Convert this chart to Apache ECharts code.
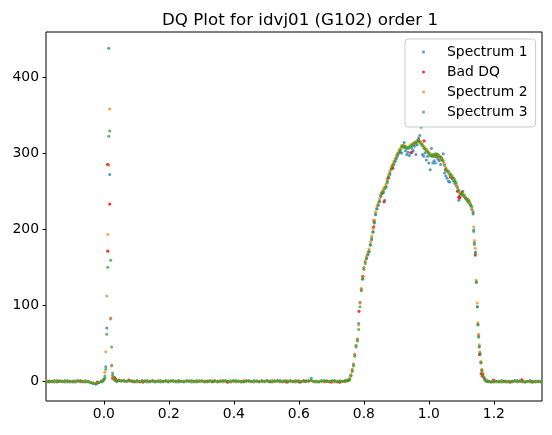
<!DOCTYPE html>
<html>
<head>
<meta charset="utf-8">
<script src="https://cdn.jsdelivr.net/npm/echarts@6/dist/echarts.min.js"></script>
<style>
  html, body { margin: 0; padding: 0; background: #fff; }
</style>
</head>
<body>
<div id="main" style="width:552px;height:435px"></div>
<script>
// wavelength grid shared by the three spectra
const wave = [
  // left flat
  -0.176, -0.168, -0.160, -0.152, -0.144, -0.136, -0.128, -0.120, -0.112, -0.104,
  -0.096, -0.088, -0.080, -0.072, -0.064, -0.056, -0.048, -0.040, -0.032, -0.024,
  -0.016, -0.008, -0.003,
  // spike
  0.000, 0.003, 0.006, 0.009, 0.012, 0.015, 0.018, 0.021, 0.024, 0.027, 0.030, 0.033, 0.036, 0.040,
  // middle flat
  0.046, 0.054, 0.062, 0.070, 0.078, 0.086, 0.094, 0.102, 0.110, 0.118,
  0.126, 0.134, 0.142, 0.150, 0.158, 0.166, 0.174, 0.182, 0.190, 0.198,
  0.206, 0.214, 0.222, 0.230, 0.238, 0.246, 0.254, 0.262, 0.270, 0.278,
  0.286, 0.294, 0.302, 0.310, 0.318, 0.326, 0.334, 0.342, 0.350, 0.358,
  0.366, 0.374, 0.382, 0.390, 0.398, 0.406, 0.414, 0.422, 0.430, 0.438,
  0.446, 0.454, 0.462, 0.470, 0.478, 0.486, 0.494, 0.502, 0.510, 0.518,
  0.526, 0.534, 0.542, 0.550, 0.558, 0.566, 0.574, 0.582, 0.590, 0.598,
  0.606, 0.614, 0.622, 0.630, 0.638, 0.646, 0.654, 0.662, 0.670, 0.678,
  0.686, 0.694, 0.702, 0.710, 0.718, 0.726, 0.734, 0.742, 0.748,
  // hump
  0.752, 0.756, 0.760, 0.764, 0.768, 0.772, 0.776, 0.780, 0.784, 0.788,
  0.792, 0.796, 0.800, 0.804, 0.808, 0.812, 0.816, 0.820, 0.824, 0.828,
  0.832, 0.836, 0.840, 0.844, 0.848, 0.852, 0.856, 0.860, 0.864, 0.868,
  0.872, 0.876, 0.880, 0.884, 0.888, 0.892, 0.896, 0.900, 0.904, 0.908,
  0.912, 0.916, 0.920, 0.924, 0.928, 0.932, 0.936, 0.940, 0.944, 0.948,
  0.952, 0.956, 0.960, 0.964, 0.968, 0.972, 0.976, 0.980, 0.984, 0.988,
  0.992, 0.996, 1.000, 1.004, 1.008, 1.012, 1.016, 1.020, 1.024, 1.028,
  1.032, 1.036, 1.040, 1.044, 1.048, 1.052, 1.056, 1.060, 1.064, 1.068,
  1.072, 1.076, 1.080, 1.084, 1.088, 1.092, 1.096, 1.100, 1.104, 1.108,
  1.112, 1.116, 1.120, 1.124, 1.128, 1.132, 1.136,
  // falling edge
  1.138, 1.140, 1.143, 1.146, 1.149, 1.151, 1.153, 1.155, 1.157, 1.160,
  1.163, 1.166, 1.169, 1.172, 1.176, 1.180,
  // right flat
  1.184, 1.192, 1.200, 1.208, 1.216, 1.224, 1.232, 1.240, 1.248, 1.256,
  1.264, 1.272, 1.280, 1.288, 1.296, 1.304, 1.312, 1.320, 1.328, 1.336, 1.344
]

const spec1 = [
  0, -1, 0, 1, -1, 0, 0, -1, 1, 0,
  -1, 0, 1, 0, -1, 0, -1, -2, -3, -4,
  -2, -1, 0,
  2, 4, 19, 70, 285, 438, 272, 83, 21, 8, 3, 2, 1, 0,
  1, 1, 0, 0, 1, 0, -1, 0, 0, 1,
  0, -1, 0, 1, 0, 0, -1, 0, 1, 0,
  0, 1, 0, -1, 0, 0, 1, 0, -1, 0,
  1, 0, 0, -1, 0, 1, 0, 0, -1, 0,
  0, 1, -1, 0, 0, 1, 0, -1, 0, 0,
  1, 0, -1, 0, 0, 1, 0, 0, -1, 1,
  0, 0, 1, -1, 0, 0, 1, 0, -1, 0,
  0, 1, 0, 0, 4, 0, -1, 0, 1, 0,
  0, -1, 0, 1, 0, -1, 0, 0, 1,
  1, 3, 8, 15, 22, 35, 47, 55, 76, 104,
  121, 134, 149, 157, 161, 166, 170, 179, 186, 196,
  208, 219, 227, 231, 236, 243, 247, 248, 238, 255,
  261, 268, 272, 279, 282, 285, 289, 293, 297, 300,
  302, 300, 310, 314, 303, 298, 301, 297, 300, 306,
  303, 309, 298, 311, 320, 323, 334, 298, 296, 300,
  291, 296, 287, 278, 306, 287, 290, 287, 295, 292,
  290, 285, 292, 299, 274, 270, 267, 263, 262, 268,
  266, 263, 260, 257, 250, 238, 244, 247, 250, 243,
  241, 239, 236, 234, 231, 226, 220,
  199, 182, 170, 131, 98, 75, 60, 46, 37, 25,
  15, 10, 5, 3, 1, 0,
  0, -1, 0, 0, -1, 1, 0, -1, 0, 0,
  1, -1, 0, 0, -1, 0, 1, 0, -1, 0, 0
]

const spec2 = [
  1, 0, -1, 0, 0, 1, -1, 0, 0, -1,
  0, 1, 0, -1, 0, 1, 0, -1, -2, -3,
  -1, 0, 1,
  2, 12, 39, 112, 193, 284, 358, 82, 20, 6, 4, 2, 1, 0,
  2, 1, 1, 0, 0, 1, 0, -1, 0, 0,
  1, 0, -1, 0, 0, 1, 0, -1, 0, 1,
  0, 0, -1, 1, 0, 0, 0, 1, 0, -1,
  0, 1, 0, 0, -1, 0, 1, 0, 0, 1,
  -1, 0, 0, 1, 0, -1, 0, 0, 1, 0,
  0, -1, 0, 1, 0, 0, -1, 1, 0, 0,
  1, 0, -1, 0, 0, 1, 0, -1, 0, 1,
  0, 0, 1, 0, 1, -1, 0, 0, 0, -1,
  1, 0, 0, -1, 0, 1, 0, 0, 0,
  2, 4, 9, 16, 23, 36, 47, 56, 74, 103,
  122, 138, 150, 158, 164, 170, 174, 183, 191, 201,
  212, 223, 230, 235, 240, 246, 250, 253, 255, 259,
  265, 272, 276, 282, 285, 289, 293, 297, 300, 304,
  306, 310, 308, 310, 307, 308, 306, 309, 311, 312,
  313, 312, 315, 317, 316, 314, 314, 312, 309, 307,
  305, 303, 301, 299, 298, 296, 298, 297, 299, 296,
  297, 293, 293, 288, 286, 281, 278, 274, 274, 270,
  270, 266, 265, 259, 256, 249, 248, 245, 247, 243,
  243, 239, 239, 235, 234, 228, 224,
  203, 185, 175, 133, 103, 77, 62, 48, 39, 26,
  16, 11, 6, 3, 1, 0,
  -1, 0, 0, -1, 0, 0, -1, 0, 0, -1,
  0, 0, 1, -1, 0, 0, -1, 0, 0, -1, 0
]

const spec3 = [
  -1, 0, 0, -1, 1, 0, 0, 1, -1, 0,
  0, -1, 0, 1, 0, -1, 0, -2, -3, -3,
  -2, 0, 1,
  3, 7, 16, 62, 150, 322, 329, 159, 45, 11, 5, 3, 1, 0,
  1, 0, 1, 0, 1, 0, 0, 1, -1, 0,
  0, 1, 0, 0, -1, 0, 1, 0, 0, -1,
  1, 0, 0, 1, 0, -1, 0, 0, 1, 0,
  -1, 0, 1, 0, 0, 0, -1, 1, 0, 0,
  1, 0, 0, -1, 1, 0, 0, 0, -1, 1,
  0, 0, 1, 0, -1, 0, 0, 1, 0, -1,
  0, 1, 0, 0, 1, -1, 0, 0, 1, 0,
  -1, 0, 0, 1, 1, 0, 0, -1, 0, 1,
  0, 0, 1, 0, -1, 0, 0, 1, 1,
  1, 2, 7, 13, 20, 33, 45, 53, 68, 98,
  119, 135, 147, 155, 162, 167, 171, 180, 188, 197,
  209, 220, 227, 232, 237, 244, 248, 250, 253, 256,
  263, 269, 274, 279, 283, 286, 290, 294, 298, 301,
  304, 308, 309, 307, 309, 306, 307, 307, 309, 310,
  311, 314, 313, 315, 317, 315, 312, 310, 307, 305,
  303, 301, 299, 297, 296, 298, 296, 299, 297, 298,
  295, 295, 291, 290, 284, 279, 276, 276, 272, 272,
  268, 267, 263, 261, 254, 251, 246, 247, 245, 245,
  241, 240, 237, 237, 232, 230, 222,
  197, 180, 168, 130, 98, 74, 58, 45, 36, 24,
  14, 9, 5, 2, 0, 0,
  0, -1, -1, 0, 0, -1, 0, 0, -1, 0,
  0, 1, 0, 0, -1, 0, 0, -1, 0, 0, -1
]

// pixels flagged with bad data quality
const badWave = [
  -0.167, -0.142, -0.070, -0.020, 0.012, 0.012, 0.018, 0.027, 0.033, 0.036,
  0.046, 0.077, 0.092, 0.120, 0.318, 0.335, 0.380, 0.431, 0.510, 0.561,
  0.602, 0.617, 0.684, 0.700, 0.725, 0.741, 0.785, 0.797, 0.830, 0.831,
  0.855, 0.862, 0.874, 0.889, 0.947, 0.969, 0.985, 1.021, 1.038, 1.051,
  1.066, 1.089, 1.092, 1.095, 1.102, 1.120, 1.143, 1.156, 1.161, 1.164,
  1.199, 1.231, 1.250, 1.286, 1.318
]
const badFlux = [
  0, 0, 0, -1, 285, 171, 233, 4, 5, 3,
  1, 1.5, 0, -1, 0, 0, -1, 0, 0, -1,
  -1, 0, 0, -1, -1, 0, 92, 138, 203, 211,
  247, 236, 267, 280, 301, 317, 316, 296, 294, 278,
  269, 250, 242, 241, 248, 239, 166, 35, 10, 7,
  1.5, 0, -1, 2, -1
]

const xTicks = [0, 0.2, 0.4, 0.6, 0.8, 1.0, 1.2]
const yTicks = [0, 100, 200, 300, 400]

const font = 'DejaVu Sans'

function pairs (xs, ys) {
  return xs.map((x, i) => [x, ys[i]])
}

let myChart = echarts.init(document.getElementById('main'))
let option = {
  animation: false,
  title: {
    text: 'DQ Plot for idvj01 (G102) order 1',
    left: 157,
    top: 7,
    textStyle: {
      fontFamily: font,
      fontSize: 16.7,
      fontWeight: 'normal',
      color: '#000'
    }
  },
  grid: {
    left: 46,
    right: 10,
    top: 32,
    bottom: 34,
    show: true,
    borderColor: '#000',
    borderWidth: 1
  },
  legend: {
    data: ['Spectrum 1', 'Bad DQ', 'Spectrum 2', 'Spectrum 3'],
    orient: 'vertical',
    left: 405,
    top: 39,
    padding: [6, 8, 8, 17],
    itemGap: 6,
    itemWidth: 3,
    itemHeight: 3,
    icon: 'circle',
    backgroundColor: 'rgba(255,255,255,0.8)',
    borderColor: '#cccccc',
    borderWidth: 1,
    borderRadius: 3,
    textStyle: {
      fontFamily: font,
      fontSize: 13.9,
      lineHeight: 14,
      color: '#000',
      padding: [0, 0, 0, 17]
    }
  },
  xAxis: {
    type: 'value',
    min: -0.178,
    max: 1.348,
    splitLine: { show: false },
    axisLine: { show: false, onZero: false },
    axisTick: {
      show: true,
      length: 3.5,
      customValues: xTicks,
      lineStyle: { color: '#000' }
    },
    axisLabel: {
      customValues: xTicks,
      margin: 6,
      fontFamily: font,
      fontSize: 13.9,
      color: '#000',
      formatter: (v) => v.toFixed(1)
    }
  },
  yAxis: {
    type: 'value',
    min: -25.9,
    max: 459.2,
    splitLine: { show: false },
    axisLine: { show: false, onZero: false },
    axisTick: {
      show: true,
      length: 3.5,
      customValues: yTicks,
      lineStyle: { color: '#000' }
    },
    axisLabel: {
      customValues: yTicks,
      margin: 7,
      fontFamily: font,
      fontSize: 13.9,
      color: '#000',
      formatter: (v) => String(Math.round(v))
    }
  },
  series: [
    {
      name: 'Spectrum 1',
      type: 'scatter',
      symbolSize: 3,
      itemStyle: { color: '#1f77b4', opacity: 0.75 },
      data: pairs(wave, spec1)
    },
    {
      name: 'Bad DQ',
      type: 'scatter',
      symbolSize: 3.2,
      itemStyle: { color: '#ff0000' },
      data: pairs(badWave, badFlux)
    },
    {
      name: 'Spectrum 2',
      type: 'scatter',
      symbolSize: 3,
      itemStyle: { color: '#ff7f0e', opacity: 0.75 },
      data: pairs(wave, spec2)
    },
    {
      name: 'Spectrum 3',
      type: 'scatter',
      symbolSize: 3,
      itemStyle: { color: '#2ca02c', opacity: 0.75 },
      data: pairs(wave, spec3)
    }
  ]
}
myChart.setOption(option)
</script>
</body>
</html>
